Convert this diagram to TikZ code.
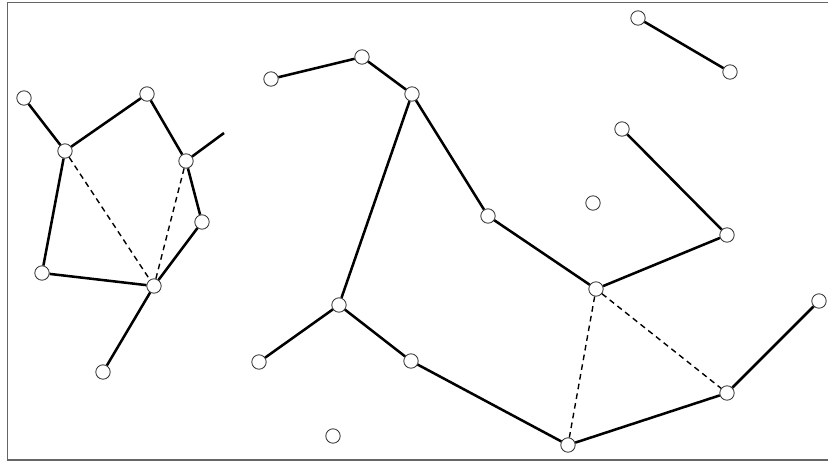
\documentclass[tikz,border=0pt]{standalone}
\usepackage{tikz}
\usetikzlibrary{positioning}

\begin{document}
\begin{tikzpicture}[x=0.025cm, y=-0.025cm,
  vtx/.style={circle, draw=black!80, fill=white, line width=0.6pt, minimum size=0.36cm, inner sep=0pt},
  edge/.style={line width=1.8pt, black},
  weak/.style={line width=1pt, black, dashed, dash pattern=on 4pt off 3pt}]
\useasboundingbox (0,0) rectangle (828,462);
\draw[black!60, line width=1pt] (828,2.5) -- (7.5,2.5) -- (7.5,460) -- (828,460);
% left cluster
\node[vtx] (a) at (24,98)   {};
\node[vtx] (b) at (65,151)  {};
\node[vtx] (c) at (147,94)  {};
\node[vtx] (d) at (186,161) {};
\node[vtx] (e) at (202,222) {};
\node[vtx] (f) at (42,273)  {};
\node[vtx] (g) at (154,286) {};
\node[vtx] (h) at (103,372) {};
\coordinate (dtip) at (224,133);
% right cluster
\node[vtx] (i) at (271,79)  {};
\node[vtx] (j) at (362,57)  {};
\node[vtx] (k) at (412,94)  {};
\node[vtx] (l) at (488,216) {};
\node[vtx] (m) at (596,289) {};
\node[vtx] (n) at (727,235) {};
\node[vtx] (o) at (622,129) {};
\node[vtx] (p) at (339,305) {};
\node[vtx] (q) at (259,362) {};
\node[vtx] (r) at (411,361) {};
\node[vtx] (s) at (568,445) {};
\node[vtx] (t) at (727,393) {};
\node[vtx] (u) at (819,301) {};
\node[vtx] (v) at (638,18)  {};
\node[vtx] (w) at (730,72)  {};
\node[vtx] (x) at (593,203) {};
\node[vtx] (y) at (333,436) {};
% connectors
\draw[edge] (a) -- (b);
\draw[edge] (b) -- (c);
\draw[edge] (c) -- (d);
\draw[edge] (d) -- (dtip);
\draw[edge] (d) -- (e);
\draw[edge] (e) -- (g);
\draw[edge] (b) -- (f);
\draw[edge] (f) -- (g);
\draw[edge] (g) -- (h);
\draw[weak] (b) -- (g);
\draw[weak] (d) -- (g);
\draw[edge] (i) -- (j);
\draw[edge] (j) -- (k);
\draw[edge] (k) -- (l);
\draw[edge] (l) -- (m);
\draw[edge] (m) -- (n);
\draw[edge] (n) -- (o);
\draw[edge] (k) -- (p);
\draw[edge] (p) -- (q);
\draw[edge] (p) -- (r);
\draw[edge] (r) -- (s);
\draw[edge] (s) -- (t);
\draw[edge] (t) -- (u);
\draw[edge] (v) -- (w);
\draw[weak] (m) -- (s);
\draw[weak] (m) -- (t);
\end{tikzpicture}
\end{document}
